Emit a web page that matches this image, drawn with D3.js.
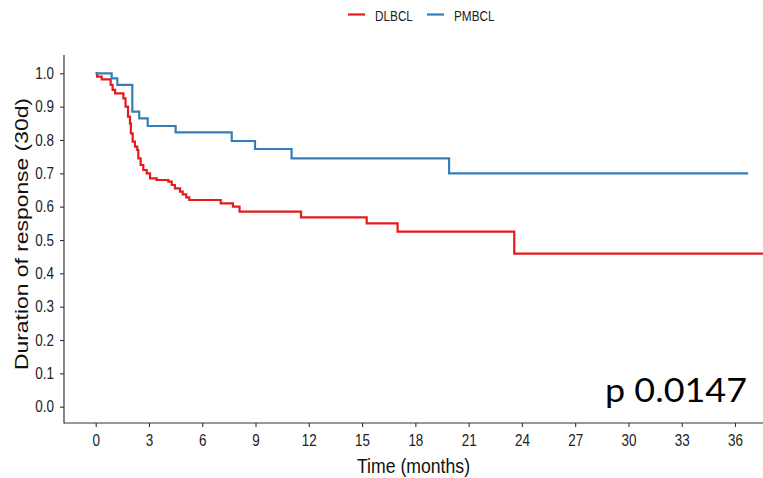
<!DOCTYPE html>
<html>
<head>
<meta charset="utf-8">
<script src="https://cdn.jsdelivr.net/npm/d3@7"></script>
<style>
  body { margin: 0; background: #fff; }
  svg { display: block; }
</style>
</head>
<body>
<div id="chart"></div>
<script>
// groups and colours
var groups = ["DLBCL", "PMBCL"];
var groupColors = ["#E41A1C", "#377EB8"];

// Kaplan-Meier steps (months, survival)
var dlbclTime = [0, 0.08, 0.34, 0.84, 0.95, 1.09, 1.56, 1.68, 1.82, 1.93, 1.98, 2.08, 2.21, 2.34, 2.40, 2.53, 2.68, 2.87, 3.06, 3.43, 4.09, 4.28, 4.46, 4.75, 4.90, 5.10, 5.27, 7.04, 7.73, 8.10, 11.56, 15.26, 17.00, 23.57, 38];
var dlbclSurv = [1.0, 0.99, 0.982, 0.965, 0.95, 0.94, 0.925, 0.90, 0.87, 0.85, 0.82, 0.795, 0.78, 0.77, 0.745, 0.725, 0.71, 0.70, 0.685, 0.68, 0.675, 0.665, 0.655, 0.645, 0.637, 0.628, 0.62, 0.61, 0.60, 0.585, 0.568, 0.55, 0.525, 0.459, 0.459];

var pmbclTime = [0, 0.9, 1.22, 2.06, 2.45, 2.93, 4.5, 7.66, 8.97, 11.03, 19.9, 36.74];
var pmbclSurv = [1.0, 0.985, 0.965, 0.885, 0.865, 0.842, 0.823, 0.797, 0.773, 0.745, 0.70, 0.70];

// axis ticks
var xTicks = [0, 3, 6, 9, 12, 15, 18, 21, 24, 27, 30, 33, 36];
var yTicks = [0, 0.1, 0.2, 0.3, 0.4, 0.5, 0.6, 0.7, 0.8, 0.9, 1.0];

var pValueText = "p 0.0147";

var width = 763, height = 478;
var panel = { left: 64, right: 763, top: 55, bottom: 423 };
var font = "'Liberation Sans', Arial, sans-serif";

var svg = d3.select("#chart").append("svg")
  .attr("width", width)
  .attr("height", height);

var x = d3.scaleLinear().domain([0, 36]).range([95.7, 735]);
var y = d3.scaleLinear().domain([0, 1]).range([406.7, 73.3]);

// the picture is a bit stretched vertically, so squeeze texts sideways
function squeeze(sel, k) {
  sel.each(function() {
    var w = this.getComputedTextLength();
    d3.select(this).attr("textLength", w * k).attr("lengthAdjust", "spacingAndGlyphs");
  });
}

svg.append("clipPath").attr("id", "panel")
  .append("rect")
  .attr("x", panel.left).attr("y", panel.top)
  .attr("width", panel.right - panel.left)
  .attr("height", panel.bottom - panel.top);

// curves
var series = [
  { name: groups[0], color: groupColors[0], time: dlbclTime, surv: dlbclSurv },
  { name: groups[1], color: groupColors[1], time: pmbclTime, surv: pmbclSurv }
];

var line = d3.line()
  .x(function(d) { return x(d[0]); })
  .y(function(d) { return y(d[1]); })
  .curve(d3.curveStepAfter);

svg.append("g").attr("clip-path", "url(#panel)")
  .selectAll("path")
  .data(series)
  .enter()
  .append("path")
  .attr("d", function(s) { return line(d3.zip(s.time, s.surv)); })
  .attr("fill", "none")
  .attr("stroke", function(s) { return s.color; })
  .attr("stroke-width", 2.2);

// axes
var xAxis = svg.append("g")
  .attr("transform", "translate(0," + panel.bottom + ")")
  .call(d3.axisBottom(x).tickValues(xTicks).tickSize(4).tickPadding(8));
var yAxis = svg.append("g")
  .attr("transform", "translate(" + panel.left + ",0)")
  .call(d3.axisLeft(y).tickValues(yTicks).tickSize(4).tickPadding(6).tickFormat(d3.format(".1f")));

[xAxis, yAxis].forEach(function(a) {
  a.select(".domain").remove();
  a.selectAll(".tick line").attr("stroke", "#333").attr("stroke-width", 1.1);
  a.selectAll(".tick text")
    .attr("fill", "#222")
    .style("font-family", font)
    .style("font-size", "16px");
  squeeze(a.selectAll(".tick text"), 0.84);
});

svg.append("line")
  .attr("x1", panel.left).attr("x2", panel.left)
  .attr("y1", panel.top).attr("y2", panel.bottom + 0.5)
  .attr("stroke", "#333").attr("stroke-width", 1.2);
svg.append("line")
  .attr("x1", panel.left).attr("x2", panel.right)
  .attr("y1", panel.bottom).attr("y2", panel.bottom)
  .attr("stroke", "#333").attr("stroke-width", 1.2);

// axis titles
var xTitle = svg.append("text")
  .attr("x", (panel.left + panel.right) / 2)
  .attr("y", 473)
  .attr("text-anchor", "middle")
  .attr("fill", "#111")
  .style("font-family", font)
  .style("font-size", "21px")
  .text("Time (months)");
squeeze(xTitle, 0.84);

svg.append("text")
  .attr("transform", "translate(28,234) rotate(-90)")
  .attr("text-anchor", "middle")
  .attr("fill", "#111")
  .style("font-family", font)
  .style("font-size", "18.5px")
  .attr("textLength", 272)
  .attr("lengthAdjust", "spacingAndGlyphs")
  .text("Duration of response (30d)");

// legend
var legend = svg.append("g");
var legendX = [348, 427];
series.forEach(function(s, i) {
  legend.append("line")
    .attr("x1", legendX[i]).attr("x2", legendX[i] + 17)
    .attr("y1", 14.5).attr("y2", 14.5)
    .attr("stroke", s.color).attr("stroke-width", 2.2);
  var t = legend.append("text")
    .attr("x", legendX[i] + 27)
    .attr("y", 21)
    .attr("fill", "#222")
    .style("font-family", font)
    .style("font-size", "14px")
    .text(s.name);
  squeeze(t, 0.84);
});

// p value
svg.append("text")
  .attr("x", 605)
  .attr("y", 401.5)
  .attr("fill", "#000")
  .style("font-family", "Lato, 'Open Sans', sans-serif")
  .style("font-size", "32px")
  .attr("textLength", 142)
  .attr("lengthAdjust", "spacingAndGlyphs")
  .text(pValueText);
</script>
</body>
</html>
